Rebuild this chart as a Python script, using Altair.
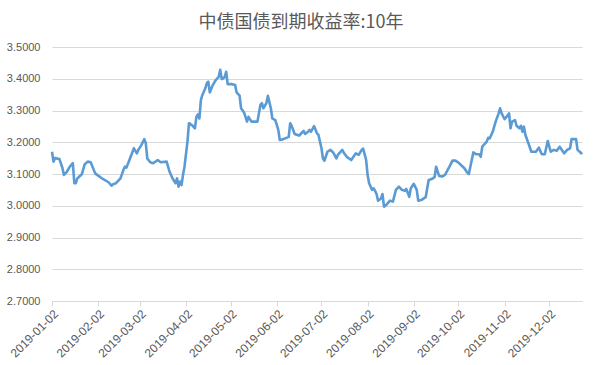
import altair as alt
import pandas as pd

title_text = "中债国债到期收益率:10年"

dates = [
    "2019-01-02", "2019-01-03", "2019-01-04", "2019-01-07", "2019-01-09", "2019-01-10",
    "2019-01-12", "2019-01-14", "2019-01-16", "2019-01-17", "2019-01-18", "2019-01-19",
    "2019-01-22", "2019-01-24", "2019-01-26", "2019-01-28", "2019-01-31", "2019-02-02",
    "2019-02-04", "2019-02-09", "2019-02-11", "2019-02-12", "2019-02-14", "2019-02-17",
    "2019-02-19", "2019-02-20", "2019-02-21", "2019-02-23", "2019-02-26", "2019-02-28",
    "2019-03-01", "2019-03-03", "2019-03-05", "2019-03-06", "2019-03-07", "2019-03-09",
    "2019-03-11", "2019-03-14", "2019-03-16", "2019-03-20", "2019-03-22", "2019-03-24",
    "2019-03-26", "2019-03-27", "2019-03-28", "2019-03-29", "2019-03-30", "2019-03-31",
    "2019-04-01", "2019-04-03", "2019-04-04", "2019-04-06", "2019-04-08", "2019-04-09",
    "2019-04-10", "2019-04-11", "2019-04-12", "2019-04-13", "2019-04-15", "2019-04-16",
    "2019-04-17", "2019-04-18", "2019-04-20", "2019-04-22", "2019-04-23", "2019-04-24",
    "2019-04-25", "2019-04-26", "2019-04-27", "2019-04-28", "2019-04-29", "2019-04-30",
    "2019-05-03", "2019-05-05", "2019-05-06", "2019-05-08", "2019-05-09", "2019-05-11",
    "2019-05-13", "2019-05-14", "2019-05-16", "2019-05-20", "2019-05-22", "2019-05-23",
    "2019-05-24", "2019-05-26", "2019-05-27", "2019-05-29", "2019-05-30", "2019-06-01",
    "2019-06-03", "2019-06-04", "2019-06-06", "2019-06-10", "2019-06-11", "2019-06-12",
    "2019-06-14", "2019-06-17", "2019-06-18", "2019-06-20", "2019-06-21", "2019-06-23",
    "2019-06-24", "2019-06-25", "2019-06-27", "2019-06-29", "2019-06-30", "2019-07-02",
    "2019-07-03", "2019-07-04", "2019-07-06", "2019-07-08", "2019-07-10", "2019-07-12",
    "2019-07-13", "2019-07-16", "2019-07-17", "2019-07-19", "2019-07-22", "2019-07-25",
    "2019-07-27", "2019-07-29", "2019-07-30", "2019-08-01", "2019-08-02", "2019-08-03",
    "2019-08-05", "2019-08-06", "2019-08-07", "2019-08-08", "2019-08-09", "2019-08-11",
    "2019-08-12", "2019-08-13", "2019-08-15", "2019-08-17", "2019-08-19", "2019-08-21",
    "2019-08-23", "2019-08-25", "2019-08-27", "2019-08-28", "2019-08-30", "2019-08-31",
    "2019-09-02", "2019-09-04", "2019-09-05", "2019-09-07", "2019-09-10", "2019-09-12",
    "2019-09-14", "2019-09-16", "2019-09-17", "2019-09-19", "2019-09-21", "2019-09-23",
    "2019-09-25", "2019-09-26", "2019-09-28", "2019-09-30", "2019-10-02", "2019-10-06",
    "2019-10-08", "2019-10-09", "2019-10-10", "2019-10-12", "2019-10-14", "2019-10-16",
    "2019-10-17", "2019-10-18", "2019-10-21", "2019-10-22", "2019-10-23", "2019-10-25",
    "2019-10-27", "2019-10-29", "2019-10-30", "2019-10-31", "2019-11-02", "2019-11-04",
    "2019-11-05", "2019-11-06", "2019-11-07", "2019-11-09", "2019-11-10", "2019-11-12",
    "2019-11-13", "2019-11-14", "2019-11-15", "2019-11-16", "2019-11-18", "2019-11-20",
    "2019-11-23", "2019-11-25", "2019-11-27", "2019-11-29", "2019-12-01", "2019-12-03",
    "2019-12-05", "2019-12-07", "2019-12-09", "2019-12-12", "2019-12-14", "2019-12-16",
    "2019-12-17", "2019-12-20", "2019-12-21", "2019-12-23", "2019-12-24",
]

yields = [
    3.170, 3.139, 3.150, 3.147, 3.119, 3.097,
    3.107, 3.123, 3.134, 3.071, 3.071, 3.086,
    3.099, 3.131, 3.139, 3.137, 3.102, 3.095,
    3.088, 3.074, 3.063, 3.068, 3.071, 3.086,
    3.113, 3.123, 3.120, 3.144, 3.181, 3.165,
    3.176, 3.191, 3.210, 3.197, 3.149, 3.137,
    3.134, 3.144, 3.137, 3.139, 3.107, 3.086,
    3.071, 3.086, 3.060, 3.076, 3.065, 3.097,
    3.123, 3.202, 3.260, 3.254, 3.244, 3.280,
    3.288, 3.275, 3.333, 3.349, 3.370, 3.386,
    3.391, 3.357, 3.380, 3.396, 3.401, 3.406,
    3.428, 3.399, 3.401, 3.406, 3.422, 3.383,
    3.383, 3.380, 3.357, 3.347, 3.307, 3.294,
    3.265, 3.280, 3.265, 3.265, 3.318, 3.323,
    3.307, 3.323, 3.346, 3.307, 3.275, 3.270,
    3.239, 3.207, 3.209, 3.217, 3.260, 3.251,
    3.226, 3.221, 3.226, 3.236, 3.226, 3.233,
    3.239, 3.233, 3.251, 3.228, 3.223, 3.181,
    3.149, 3.142, 3.170, 3.176, 3.167, 3.149,
    3.160, 3.176, 3.167, 3.154, 3.144, 3.165,
    3.160, 3.176, 3.180, 3.144, 3.097, 3.071,
    3.050, 3.055, 3.047, 3.037, 3.016, 3.023,
    3.037, 2.997, 3.005, 3.016, 3.013, 3.050,
    3.060, 3.050, 3.047, 3.053, 3.028, 3.055,
    3.069, 3.050, 3.016, 3.018, 3.027, 3.081,
    3.084, 3.090, 3.123, 3.094, 3.092, 3.097,
    3.115, 3.123, 3.142, 3.142, 3.136, 3.118,
    3.104, 3.100, 3.123, 3.168, 3.162, 3.162,
    3.154, 3.186, 3.202, 3.214, 3.212, 3.233,
    3.265, 3.291, 3.307, 3.291, 3.273, 3.284,
    3.291, 3.244, 3.265, 3.270, 3.252, 3.244,
    3.252, 3.233, 3.249, 3.223, 3.197, 3.170,
    3.170, 3.183, 3.162, 3.162, 3.204, 3.170,
    3.176, 3.173, 3.186, 3.165, 3.176, 3.181,
    3.210, 3.210, 3.176, 3.168, 3.162,
]

y_ticks = [2.7, 2.8, 2.9, 3.0, 3.1, 3.2, 3.3, 3.4, 3.5]
x_tick_months = list(range(1, 13))

df = pd.DataFrame({"date": pd.to_datetime(dates), "value": yields})

label_color = "#595959"
grid_color = "#d9d9d9"

chart = (
    alt.Chart(df)
    .mark_line(color="#5B9BD5", strokeWidth=2.6, strokeJoin="round")
    .encode(
        x=alt.X(
            "date:T",
            title=None,
            scale=alt.Scale(
                domain=[alt.DateTime(year=2019, month=1, date=2),
                        alt.DateTime(year=2019, month=12, date=24)],
                nice=False,
            ),
            axis=alt.Axis(
                values=[alt.DateTime(year=2019, month=m, date=2) for m in x_tick_months],
                format="%Y-%m-%d",
                labelAngle=-45,
                labelAlign="right",
                labelBaseline="top",
                labelPadding=2,
                labelFont="Liberation Sans",
                labelFontSize=12,
                labelColor=label_color,
                grid=False,
                domainColor=grid_color,
                tickColor=grid_color,
                tickSize=5,
                labelOverlap=False,
                labelFlush=False,
            ),
        ),
        y=alt.Y(
            "value:Q",
            title=None,
            scale=alt.Scale(domain=[2.7, 3.5], nice=False, zero=False),
            axis=alt.Axis(
                values=y_ticks,
                format=".4f",
                ticks=False,
                domain=False,
                labelPadding=12,
                labelFont="Liberation Sans",
                labelFontSize=11,
                labelColor=label_color,
                gridColor=grid_color,
                gridWidth=1,
            ),
        ),
    )
    .properties(
        width=530,
        height=254,
        padding={"left": 52, "top": 47, "right": 18, "bottom": 64},
        autosize=alt.AutoSizeParams(type="none"),
        title=alt.Title(
            title_text,
            font="Noto Sans CJK SC",
            fontSize=18,
            fontWeight="normal",
            color=label_color,
            anchor="middle",
            dx=-16,
            offset=9,
        ),
    )
    .configure_view(stroke=None)
)

chart.save("out.html", embed_options={"renderer": "svg", "actions": False})
